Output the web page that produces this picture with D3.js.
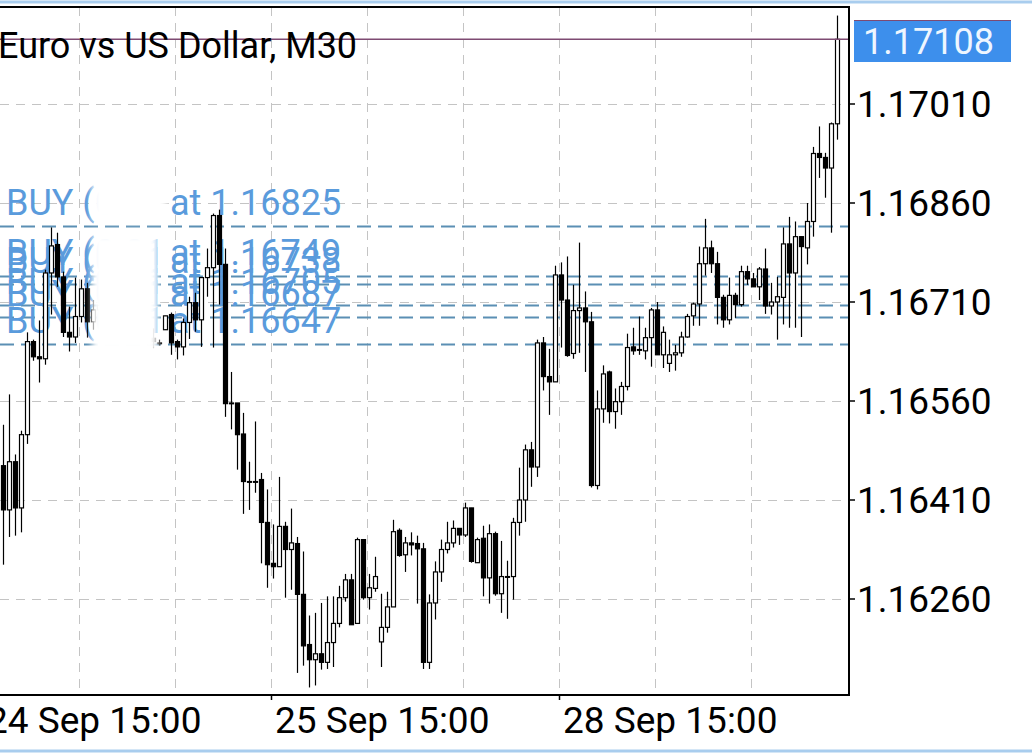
<!DOCTYPE html>
<html>
<head>
<meta charset="utf-8">
<title>Euro vs US Dollar, M30</title>
<script src="https://d3js.org/d3.v7.min.js"></script>
<style>
  html, body { margin: 0; padding: 0; background: #fff; overflow: hidden; }
  text { font-family: Roboto, "Noto Sans", sans-serif; }
</style>
</head>
<body>
<svg id="chart" width="1032" height="753"></svg>
<script>
// EURUSD M30 candles, prices in points (1e-5)
const open  = [116462,116395,116468,116398,116509,116650,116627,116624,116754,116797,116748,116664,116657,116688,116730,116680,
  116698,116705,116700,116680,116690,116675,116665,116680,116670,116655,
  116648,116668,116691,116650,116642,116679,116709,116683,116747,116762,116841,116767,116557,116557,116510,116438,116438,116441,116376,116314,116309,116370,
  116335,116344,116267,116191,116168,116177,116164,116194,116223,116262,116289,116223,116350,116262,116276,116195,116217,116248,116364,116327,116345,116344,
  116336,116164,116254,116301,116335,116345,116367,116357,116398,116315,116352,116292,116359,116268,116294,116294,116376,116410,116486,116460,
  116648,116597,116589,116751,116713,116632,116697,116701,116680,116432,116548,116604,116544,116559,116582,116642,116638,116636,116656,116698,
  116630,116617,116630,116633,116657,116689,116707,116768,116792,116768,116717,116683,116720,116706,116756,116745,116733,116760,116704,116710,
  116717,116798,116754,116809,116792,116832,116935,116929,116913,116980];
const high  = [116524,116570,116479,116515,116664,116653,116682,116759,116823,116815,116756,116703,116747,116744,116739,116713,
  116720,116730,116715,116700,116710,116695,116690,116700,116685,116670,
  116653,116689,116694,116653,116685,116718,116724,116748,116791,116844,116850,116791,116604,116557,116542,116468,116529,116451,116426,116373,116445,116377,
  116397,116354,116332,116235,116239,116254,116264,116264,116280,116298,116298,116353,116350,116298,116324,116268,116271,116380,116367,116354,116361,116356,
  116345,116267,116317,116350,116377,116379,116367,116406,116398,116353,116371,116373,116362,116348,116318,116383,116459,116494,116498,116653,
  116657,116639,116765,116770,116779,116736,116800,116726,116695,116576,116614,116606,116579,116589,116662,116671,116688,116671,116701,116710,
  116673,116653,116645,116665,116692,116709,116794,116836,116803,116786,116721,116747,116724,116765,116765,116754,116763,116791,116739,116748,
  116823,116839,116832,116809,116860,116945,116976,116936,116982,117144];
const low   = [116312,116354,116356,116361,116495,116621,116588,116615,116691,116733,116657,116635,116648,116679,116656,116668,
  116680,116690,116670,116660,116670,116655,116650,116660,116645,116640,
  116644,116668,116630,116623,116629,116654,116665,116642,116718,116641,116706,116536,116517,116456,116389,116395,116421,116314,116277,116291,116309,116262,
  116274,116148,116159,116126,116129,116153,116154,116157,116217,116256,116221,116223,116259,116244,116271,116157,116209,116248,116324,116301,116326,116253,
  116154,116154,116229,116286,116329,116338,116342,116354,116315,116315,116264,116253,116265,116239,116230,116259,116356,116377,116430,116445,
  116576,116539,116589,116641,116627,116624,116633,116604,116429,116426,116527,116526,116518,116539,116576,116630,116630,116623,116612,116630,
  116610,116604,116606,116627,116656,116674,116674,116750,116754,116676,116671,116676,116686,116703,116736,116733,116713,116692,116691,116653,
  116676,116671,116671,116657,116767,116809,116898,116868,116815,116956];
const close = [116395,116468,116398,116509,116650,116627,116624,116754,116795,116748,116664,116657,116688,116730,116680,116698,
  116705,116700,116680,116690,116675,116665,116680,116670,116655,116650,
  116648,116689,116648,116642,116679,116709,116683,116747,116762,116841,116767,116556,116557,116509,116438,116438,116438,116376,116312,116309,116370,116335,
  116345,116267,116189,116168,116177,116164,116194,116223,116262,116289,116221,116350,116262,116277,116294,116217,116248,116362,116326,116345,116342,116336,
  116164,116254,116301,116335,116345,116367,116357,116398,116317,116350,116292,116359,116268,116294,116294,116376,116410,116486,116460,116648,
  116597,116589,116751,116713,116629,116697,116701,116680,116432,116548,116601,116544,116559,116582,116641,116636,116638,116656,116698,116630,
  116664,116630,116633,116657,116688,116707,116768,116792,116768,116717,116683,116720,116706,116756,116745,116733,116760,116704,116710,116718,
  116798,116754,116809,116794,116832,116935,116929,116913,116980,117108];

const priceTicks = [1.17010, 1.16860, 1.16710, 1.16560, 1.16410, 1.16260];
const timeTicks = [{i: -3, label: "24 Sep 15:00"}, {i: 45, label: "25 Sep 15:00"}, {i: 93, label: "28 Sep 15:00"}];
const gridIdx = [-3, 13, 29, 45, 61, 77, 93, 109, 125];
const buyPrices = [1.16825, 1.16749, 1.16738, 1.16705, 1.16687, 1.16647];
const lastPrice = 1.17108;
const title = "Euro vs US Dollar, M30";

const svg = d3.select("#chart");
const plotR = 849, plotB = 695, plotT = 7;
const x = d3.scaleLinear().domain([0, open.length - 1]).range([3, 837]);
const y = d3.scaleLinear().domain([1.16260, 1.17010]).range([599, 104]);
const P = v => v / 1e5;

// outer light blue borders
svg.append("line").attr("x1", 0).attr("x2", 1032).attr("y1", 2).attr("y2", 2).attr("stroke", "#a9cdee").attr("stroke-width", 3);
svg.append("line").attr("x1", 0).attr("x2", 1032).attr("y1", 751).attr("y2", 751).attr("stroke", "#a9cdee").attr("stroke-width", 3);

// grid
svg.append("g").selectAll("line").data(priceTicks).join("line")
  .attr("x1", 0).attr("x2", plotR).attr("y1", d => Math.round(y(d)) + 0.5).attr("y2", d => Math.round(y(d)) + 0.5)
  .attr("stroke", "#c4c4c4").attr("stroke-dasharray", "9,7");
svg.append("g").selectAll("line").data(gridIdx).join("line")
  .attr("x1", d => Math.round(x(d)) - 1.5).attr("x2", d => Math.round(x(d)) - 1.5).attr("y1", plotT).attr("y2", plotB)
  .attr("stroke", "#c4c4c4").attr("stroke-dasharray", "9,7");

// buy order lines and labels
svg.append("g").selectAll("line").data(buyPrices).join("line")
  .attr("x1", 0).attr("x2", plotR).attr("y1", d => Math.round(y(d)) + 0.5).attr("y2", d => Math.round(y(d)) + 0.5)
  .attr("stroke", "#5b8fb4").attr("stroke-width", 2).attr("stroke-dasharray", "14,7");
const lbl = svg.append("g").attr("fill", "#5a9bdc").attr("font-size", 36);
lbl.selectAll("text.a").data(buyPrices).join("text").attr("class", "a")
  .attr("x", 6).attr("y", d => y(d) - 11).text("BUY (0.01");
lbl.selectAll("text.b").data(buyPrices).join("text").attr("class", "b")
  .attr("x", 170).attr("y", d => y(d) - 11).text(d => "at " + d.toFixed(5));

// candles
const cg = svg.append("g");
const idx = d3.range(open.length);
cg.selectAll("line").data(idx).join("line")
  .attr("x1", i => Math.round(x(i)) + 0.5).attr("x2", i => Math.round(x(i)) + 0.5)
  .attr("y1", i => y(P(high[i]))).attr("y2", i => y(P(low[i])))
  .attr("stroke", "#000").attr("stroke-width", 1.2);
cg.selectAll("rect").data(idx).join("rect")
  .attr("x", i => Math.round(x(i)) - 1.5).attr("width", 4)
  .attr("y", i => y(P(Math.max(open[i], close[i]))))
  .attr("height", i => Math.max(0.8, Math.abs(y(P(open[i])) - y(P(close[i])))))
  .attr("fill", i => close[i] > open[i] ? "#fff" : "#000")
  .attr("stroke", "#000").attr("stroke-width", 1.2);

// redacted patches
const defs = svg.append("defs");
defs.append("filter").attr("id", "blur").append("feGaussianBlur").attr("stdDeviation", 3);
svg.append("rect").attr("x", 92).attr("y", 150).attr("width", 74).attr("height", 72).attr("fill", "#fff").attr("filter", "url(#blur)");
svg.append("rect").attr("x", 92).attr("y", 234).attr("width", 66).attr("height", 118).attr("fill", "#fff").attr("filter", "url(#blur)");

// last price line
svg.append("line").attr("x1", 0).attr("x2", plotR).attr("y1", y(lastPrice)).attr("y2", y(lastPrice))
  .attr("stroke", "#7e4a72").attr("stroke-width", 1.5);

// title
svg.append("text").attr("x", -2).attr("y", 58).attr("font-size", 36).attr("fill", "#000").text(title);

// frame
svg.append("line").attr("x1", 0).attr("x2", plotR + 1).attr("y1", plotT).attr("y2", plotT).attr("stroke", "#000").attr("stroke-width", 2);
svg.append("line").attr("x1", plotR).attr("x2", plotR).attr("y1", plotT).attr("y2", plotB + 1).attr("stroke", "#000").attr("stroke-width", 2);
svg.append("line").attr("x1", 0).attr("x2", plotR + 1).attr("y1", plotB).attr("y2", plotB).attr("stroke", "#000").attr("stroke-width", 2);

// price axis
const ya = svg.append("g");
ya.selectAll("line").data(priceTicks).join("line")
  .attr("x1", plotR).attr("x2", plotR + 6).attr("y1", d => y(d)).attr("y2", d => y(d)).attr("stroke", "#000").attr("stroke-width", 1.5);
ya.selectAll("text").data(priceTicks).join("text")
  .attr("x", 857).attr("y", d => y(d) + 13).attr("font-size", 37).attr("fill", "#000").text(d => d.toFixed(5));

// current price box
svg.append("rect").attr("x", 854).attr("y", 20).attr("width", 157).attr("height", 42).attr("fill", "#3d8fec");
svg.append("line").attr("x1", 854).attr("x2", 1011).attr("y1", 20.5).attr("y2", 20.5).attr("stroke", "#7e4a72");
svg.append("text").attr("x", 863).attr("y", 54).attr("font-size", 36).attr("fill", "#eef6ff").text(lastPrice.toFixed(5));

// time axis
const xa = svg.append("g");
xa.selectAll("line").data(timeTicks).join("line")
  .attr("x1", d => Math.round(x(d.i)) - 1.5).attr("x2", d => Math.round(x(d.i)) - 1.5)
  .attr("y1", plotB).attr("y2", plotB + 5).attr("stroke", "#000").attr("stroke-width", 1.5);
xa.selectAll("text").data(timeTicks).join("text")
  .attr("x", d => Math.round(x(d.i)) + 2).attr("y", 733).attr("font-size", 37).attr("fill", "#000").text(d => d.label);
</script>
</body>
</html>
